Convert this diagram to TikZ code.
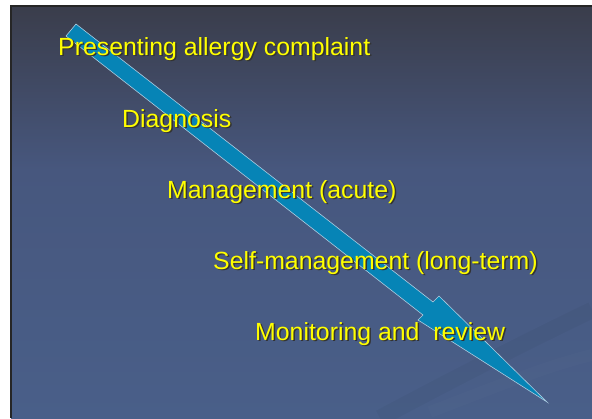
\documentclass[tikz,border=0pt]{standalone}
\usepackage{fontspec}
\setmainfont{Liberation Sans}
\usetikzlibrary{calc}

\definecolor{slidetop}{RGB}{58,61,75}
\definecolor{slidemid}{RGB}{71,87,126}
\definecolor{slidebot}{RGB}{73,95,137}
\definecolor{arrowblue}{RGB}{6,132,182}
\definecolor{arrowedge}{RGB}{175,205,225}
\definecolor{stageyellow}{RGB}{255,255,0}

\tikzset{
  stage/.style={anchor=base west, inner sep=0pt, text=stageyellow, font=\fontsize{21.2}{25}\selectfont},
  stageshadow/.style={stage, text=black!80},
}

% yellow stage text with a dark drop shadow
\newcommand{\stagelabel}[3]{%
  \node[stageshadow] at ($(#2)+(1.5,1.5)$) {#3};
  \node[stage] (#1) at (#2) {#3};}

\begin{document}
\begin{tikzpicture}[x=0.03cm, y=-0.03cm]
        \useasboundingbox (0,0) rectangle (592,418);
        \fill[white] (0,0) rectangle (592,418);

        % Background
        \shade[top color=slidetop, bottom color=slidemid] (11,6) rectangle (592,170);
        \shade[top color=slidemid, bottom color=slidebot] (11,170) rectangle (592,418);
        \draw[black, opacity=0.03, line width=14] (380,418) .. controls (470,370) and (540,335) .. (592,310);
        \draw[white, opacity=0.015, line width=10] (430,412) .. controls (500,385) and (550,365) .. (592,355);
        \draw[black!85, line width=1.5] (11,418) -- (11,6) -- (592,6);

        % Arrow
        \filldraw[fill=arrowblue, draw=arrowedge, line width=0.5pt, line join=miter]
          (76,24) -- (433,302) -- (439,296) -- (547,402) -- (418,320) -- (423,315) -- (66,36) -- cycle;

        % Stages
        \stagelabel{present}{58,55}{Presenting allergy complaint}
        \stagelabel{diag}{122,127}{Diagnosis}
        \stagelabel{acute}{167,198}{Management (acute)}
        \stagelabel{selfmgmt}{213,269}{Self-management (long-term)}
        \stagelabel{monitor}{255,340}{Monitoring and\ \ review}
\end{tikzpicture}
\end{document}
